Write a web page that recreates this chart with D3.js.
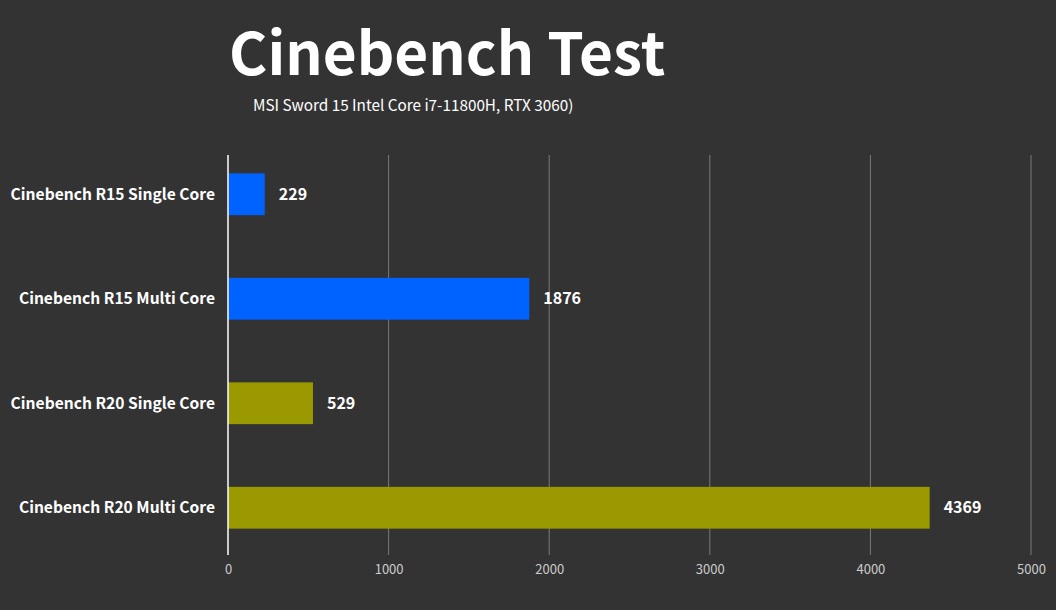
<!DOCTYPE html>
<html>
<head>
<meta charset="utf-8">
<script src="https://cdn.jsdelivr.net/npm/d3@7"></script>
<style>
  html, body { margin: 0; padding: 0; background: #333333; }
  svg { display: block; font-family: "Noto Sans CJK SC", "Noto Sans", sans-serif; }
</style>
</head>
<body>
<svg width="1056" height="610"></svg>
<script>
const categories = [
  'Cinebench R15 Single Core',
  'Cinebench R15 Multi Core',
  'Cinebench R20 Single Core',
  'Cinebench R20 Multi Core',
];
const scores = [229, 1876, 529, 4369];
const barColors = ['#0062ff', '#0062ff', '#9a9a00', '#9a9a00'];
const ticks = [0, 1000, 2000, 3000, 4000, 5000];

const svg = d3.select('svg');

const x = d3.scaleLinear().domain([0, 5000]).range([228, 1031]);
const y = d3.scaleBand().domain(categories).range([142, 560]).paddingInner(0.6).paddingOuter(0.3);

// title
svg.append('text')
  .attr('x', 229)
  .attr('y', 75)
  .text('Cinebench Test')
  .style('fill', '#fff')
  .style('font-size', '58.5px')
  .style('font-weight', 'bold');

svg.append('text')
  .attr('x', 253)
  .attr('y', 111)
  .text('MSI Sword 15 Intel Core i7-11800H, RTX 3060)')
  .style('fill', '#fff')
  .style('font-size', '15.3px');

// gridlines
svg.append('g')
  .selectAll('line')
  .data(ticks.slice(1))
  .enter()
  .append('line')
  .attr('x1', d => x(d))
  .attr('x2', d => x(d))
  .attr('y1', 155)
  .attr('y2', 555)
  .style('stroke', '#7a7a7a')
  .style('stroke-width', '1px');

// x axis labels
const xAxis = svg.append('g')
  .attr('transform', 'translate(0,555)')
  .call(d3.axisBottom(x).tickValues(ticks).tickFormat(d3.format('d')).tickSize(0).tickPadding(10));
xAxis.select('.domain').remove();
xAxis.selectAll('text')
  .style('fill', '#cccccc')
  .style('font-size', '13px')
  .style('font-family', '"Noto Sans CJK SC", "Noto Sans", sans-serif');

// bars
svg.append('g')
  .selectAll('rect')
  .data(scores)
  .enter()
  .append('rect')
  .attr('x', x(0))
  .attr('y', (d, i) => y(categories[i]))
  .attr('width', d => x(d) - x(0))
  .attr('height', y.bandwidth())
  .style('fill', (d, i) => barColors[i]);

// value labels
svg.append('g')
  .selectAll('text')
  .data(scores)
  .enter()
  .append('text')
  .attr('x', d => x(d) + 14)
  .attr('y', (d, i) => y(categories[i]) + y.bandwidth() / 2)
  .attr('dy', '0.35em')
  .text(d => d)
  .style('fill', '#fff')
  .style('font-size', '16px')
  .style('font-weight', 'bold');

// category labels
svg.append('g')
  .selectAll('text')
  .data(categories)
  .enter()
  .append('text')
  .attr('x', 215)
  .attr('y', d => y(d) + y.bandwidth() / 2)
  .attr('dy', '0.35em')
  .attr('text-anchor', 'end')
  .text(d => d)
  .style('fill', '#fff')
  .style('font-size', '15.6px')
  .style('font-weight', 'bold');

// y axis line
svg.append('line')
  .attr('x1', x(0))
  .attr('x2', x(0))
  .attr('y1', 155)
  .attr('y2', 555)
  .style('stroke', '#ffffff')
  .style('stroke-width', '1.5px');
</script>
</body>
</html>
